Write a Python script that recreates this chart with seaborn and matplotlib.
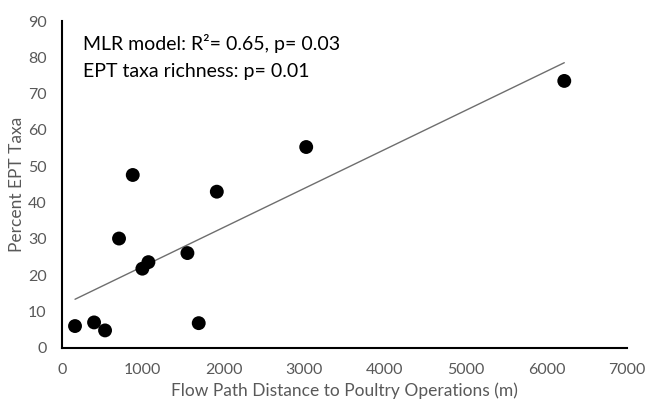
import matplotlib
matplotlib.use("Agg")
import matplotlib.pyplot as plt
import seaborn as sns
import pandas as pd

distance_m = [161, 397, 533, 706, 876, 995, 1070, 1553, 1693, 1917, 3024, 6220]
percent_ept = [6.0, 7.0, 4.8, 30.1, 47.6, 21.8, 23.6, 26.1, 6.8, 43.0, 55.3, 73.5]
x_ticks = [0, 1000, 2000, 3000, 4000, 5000, 6000, 7000]
y_ticks = [0, 10, 20, 30, 40, 50, 60, 70, 80, 90]

df = pd.DataFrame({"dist": distance_m, "ept": percent_ept})

sns.set_style("white")
plt.rcParams["font.family"] = ["Lato", "DejaVu Sans"]

fig = plt.figure(figsize=(6.46, 4.04), dpi=100)
ax = fig.add_axes([0.096, 0.139, 0.875, 0.809])

sns.regplot(data=df, x="dist", y="ept", ax=ax, ci=None, truncate=True,
            scatter_kws=dict(s=100, color="black", edgecolor="none", alpha=1, zorder=3),
            line_kws=dict(color="#6e6e6e", lw=1.0, zorder=2))

ax.set_xlim(0, 7000)
ax.set_ylim(0, 90)
ax.set_xticks(x_ticks)
ax.set_yticks(y_ticks)
ax.tick_params(axis="x", length=0, labelsize=11.5, labelcolor="#595959", pad=11)
ax.tick_params(axis="y", length=0, labelsize=11.5, labelcolor="#595959", pad=11)
sns.despine(ax=ax)
for s in ["left", "bottom"]:
    ax.spines[s].set_color("black")
    ax.spines[s].set_linewidth(1.5)

ax.set_xlabel("Flow Path Distance to Poultry Operations (m)", fontsize=12.5, color="#595959", labelpad=4)
ax.set_ylabel("Percent EPT Taxa", fontsize=12.5, color="#595959", labelpad=2)

ax.text(0.037, 0.93, "MLR model: R²= 0.65, p= 0.03", transform=ax.transAxes,
        fontsize=14, color="black", va="center", ha="left")
ax.text(0.037, 0.845, "EPT taxa richness: p= 0.01", transform=ax.transAxes,
        fontsize=14, color="black", va="center", ha="left")

fig.savefig("out.png", dpi=100)
